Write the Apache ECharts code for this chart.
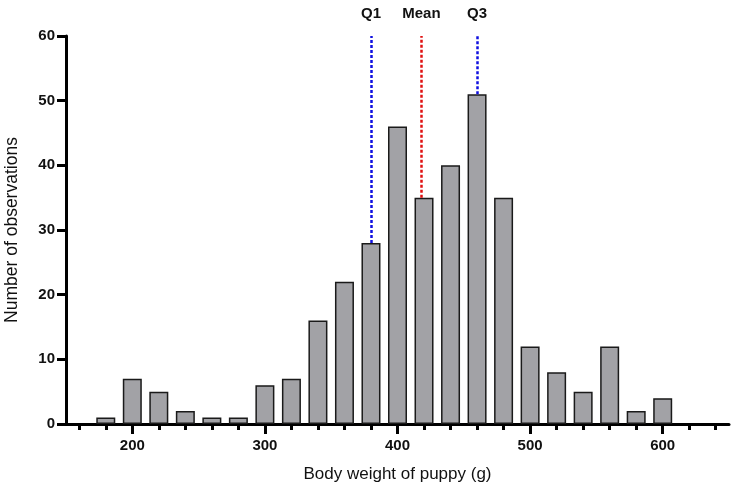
<!DOCTYPE html>
<html>
<head>
<meta charset="utf-8">
<script src="https://cdn.jsdelivr.net/npm/echarts@6/dist/echarts.min.js"></script>
<style>
  html, body { margin: 0; padding: 0; background: #fff; }
  #chart { width: 738px; height: 494px; }
</style>
</head>
<body>
<div id="chart"></div>
<script>
// bin centres (g) and counts
var binCentres = [180, 200, 220, 240, 260, 280, 300, 320, 340, 360, 380, 400, 420, 440, 460, 480, 500, 520, 540, 560, 580, 600];
var counts     = [1,   7,   5,   2,   1,   1,   6,   7,   16,  22,  28,  46,  35,  40,  51,  35,  12,  8,   5,   12,  2,   4];

var majorTicks = [200, 300, 400, 500, 600];
var minorTicks = [160, 180, 200, 220, 240, 260, 280, 300, 320, 340, 360, 380, 400, 420, 440, 460, 480, 500, 520, 540, 560, 580, 600, 620, 640];

// summary statistics: name, position, height where the line stops
var statNames  = ['Q1', 'Mean', 'Q3'];
var statValues = [380, 418, 460];
var statBottoms = [28, 35, 51];
var statColors = ['#1010e0', '#e01010', '#1010e0'];

var myChart = echarts.init(document.getElementById('chart'));

var font = 'Liberation Sans, Arial, sans-serif';

var markData = statNames.map(function (n, i) {
  return [
    { coord: [statValues[i], statBottoms[i]], lineStyle: { color: statColors[i] } },
    { coord: [statValues[i], 60], name: n }
  ];
});

var option = {
  animation: false,
  backgroundColor: '#fff',
  grid: { left: 66, right: 9, top: 36, bottom: 70, containLabel: false, outerBoundsMode: 'none' },
  xAxis: [
    {
      type: 'value',
      min: 150,
      max: 650,
      name: 'Body weight of puppy (g)',
      nameLocation: 'middle',
      nameGap: 42,
      nameTextStyle: { fontFamily: font, fontSize: 17, color: '#111' },
      axisLine: { show: true, lineStyle: { color: '#000', width: 3 } },
      axisTick: { show: true, length: 10, lineStyle: { color: '#000', width: 3 }, customValues: majorTicks },
      axisLabel: { show: true, margin: 14, fontFamily: font, fontSize: 15, fontWeight: 'bold', color: '#111', customValues: majorTicks },
      splitLine: { show: false }
    },
    {
      type: 'value',
      min: 150,
      max: 650,
      position: 'bottom',
      axisLine: { show: false },
      axisTick: { show: true, length: 6, lineStyle: { color: '#000', width: 3 }, customValues: minorTicks },
      axisLabel: { show: false },
      splitLine: { show: false }
    }
  ],
  yAxis: {
    type: 'value',
    min: 0,
    max: 60,
    interval: 10,
    name: 'Number of observations',
    nameLocation: 'middle',
    nameGap: 45,
    nameTextStyle: { fontFamily: font, fontSize: 17.5, color: '#111' },
    axisLine: { show: true, lineStyle: { color: '#000', width: 3 } },
    axisTick: { show: true, length: 9, lineStyle: { color: '#000', width: 3 } },
    axisLabel: { margin: 11, fontFamily: font, fontSize: 15, fontWeight: 'bold', color: '#111' },
    splitLine: { show: false }
  },
  series: [
    {
      type: 'bar',
      xAxisIndex: 0,
      barWidth: 19,
      itemStyle: { color: '#a2a2a6', borderColor: '#1a1a1a', borderWidth: 1.5 },
      data: binCentres.map(function (x, i) { return [x, counts[i]]; }),
      markLine: {
        silent: true,
        symbol: ['none', 'none'],
        lineStyle: { type: [3, 2], width: 2.5 },
        label: {
          show: true,
          position: 'end',
          distance: 15,
          formatter: '{b}',
          fontFamily: font,
          fontSize: 15,
          fontWeight: 'bold',
          color: '#111'
        },
        data: markData
      }
    }
  ]
};

myChart.setOption(option);
</script>
</body>
</html>
